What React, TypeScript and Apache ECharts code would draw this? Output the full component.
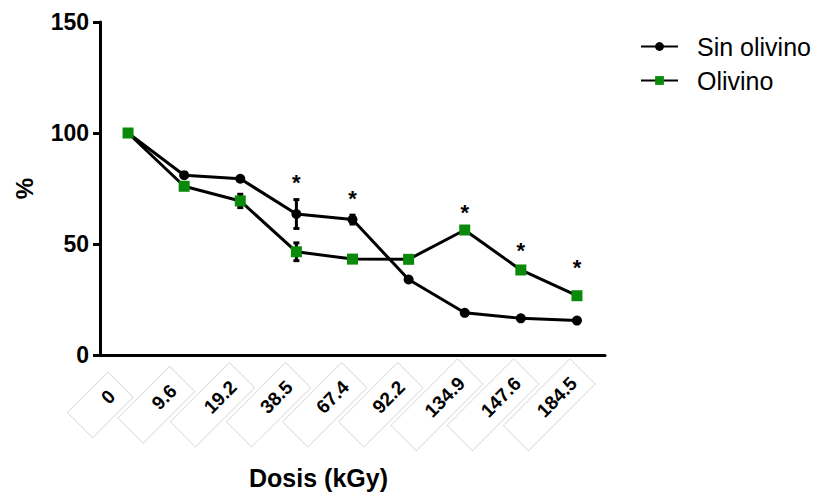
import React, { useEffect, useRef } from "react";
import * as echarts from "echarts";

const doses = ["0", "9.6", "19.2", "38.5", "67.4", "92.2", "134.9", "147.6", "184.5"];
const sinOlivino = [100, 81, 79.4, 63.5, 61, 34, 19, 16.5, 15.5];
const sinOlivinoErr = [0, 0.8, 0.8, 6.5, 2, 0, 0, 0, 0];
const olivino = [100, 76, 69.4, 46.5, 43.2, 43.1, 56.3, 38.3, 26.7];
const olivinoErr = [0, 0, 3, 4, 0, 0, 0, 0, 0];
const asteriskY: (number | null)[] = [null, null, null, 77.5, 70.5, null, 64.2, 47.2, 39.5];
const yTicks = [0, 50, 100, 150];

const FONT = "'Liberation Sans', Arial, sans-serif";
const GREEN = "#0a8a0a";

export default function App() {
  const ref = useRef<HTMLDivElement>(null);
  useEffect(() => {
    if (!ref.current) return;
    const chart = echarts.init(ref.current, null, { renderer: "svg" });
    const errData = (vals: number[], errs: number[]) =>
      vals.map((v, i) => [i, v - errs[i], v + errs[i]]).filter((d, i) => errs[i] > 0);
    const errRender = (params: any, api: any) => {
      const i = api.value(0);
      const lo = api.coord([i, api.value(1)]);
      const hi = api.coord([i, api.value(2)]);
      const cap = 3;
      const st = { stroke: "#000", lineWidth: 3 };
      return {
        type: "group",
        children: [
          { type: "line", shape: { x1: lo[0], y1: lo[1], x2: hi[0], y2: hi[1] }, style: st },
          { type: "line", shape: { x1: lo[0] - cap, y1: lo[1], x2: lo[0] + cap, y2: lo[1] }, style: st },
          { type: "line", shape: { x1: hi[0] - cap, y1: hi[1], x2: hi[0] + cap, y2: hi[1] }, style: st },
        ],
      };
    };
    // rotated tick labels: text centre offset from the tick foot
    const PAD = [8, 12, 8, 34];
    const ANG = Math.PI / 4;
    const labelRender = (params: any, api: any) => {
      const p = api.coord([api.value(0), 0]);
      const cx = p[0] - 20;
      const cy = p[1] + 42;
      // shift from box centre to text centre along baseline
      const s = (PAD[3] - PAD[1]) / 2;
      const x = cx - s * Math.cos(ANG);
      const y = cy + s * Math.sin(ANG);
      return {
        type: "text",
        x,
        y,
        rotation: ANG,
        style: {
          text: doses[params.dataIndex],
          fontSize: 19,
          fontWeight: "bold",
          fontFamily: FONT,
          fill: "#000",
          align: "center",
          verticalAlign: "middle",
          backgroundColor: "#fff",
          borderColor: "#d4d4d4",
          borderWidth: 0.7,
          padding: PAD,
        },
      };
    };
    chart.setOption({
      animation: false,
      textStyle: { fontFamily: FONT },
      grid: { left: 100, top: 22, right: 218, bottom: 138, containLabel: false, outerBoundsMode: "none" },
      legend: {
        orient: "vertical",
        left: 635,
        top: 29,
        itemWidth: 37,
        itemHeight: 11,
        itemGap: 9,
        textStyle: { fontSize: 25, color: "#000", fontFamily: FONT, padding: [0, 0, 0, 14] },
        data: ["Sin olivino", "Olivino"],
      },
      xAxis: {
        type: "category",
        data: doses,
        boundaryGap: true,
        name: "Dosis (kGy)",
        nameLocation: "middle",
        nameGap: 110,
        nameTextStyle: {
          fontSize: 25,
          fontWeight: "bold",
          color: "#000",
          fontFamily: FONT,
          padding: [0, 68, 0, 0],
        },
        axisLine: { lineStyle: { color: "#000", width: 3 } },
        axisTick: { alignWithLabel: true, length: 8, lineStyle: { color: "#000", width: 3 } },
        axisLabel: { show: false },
      },
      yAxis: {
        type: "value",
        min: 0,
        max: 150,
        interval: 50,
        name: "%",
        nameLocation: "middle",
        nameGap: 64,
        nameRotate: 90,
        nameTextStyle: { fontSize: 24, fontWeight: "bold", color: "#000", fontFamily: FONT },
        splitLine: { show: false },
        axisLine: { show: true, lineStyle: { color: "#000", width: 3 } },
        axisTick: { show: true, length: 7, lineStyle: { color: "#000", width: 3 } },
        axisLabel: {
          fontSize: 23,
          fontWeight: "bold",
          color: "#000",
          margin: 11,
          fontFamily: FONT,
          formatter: (v: number) => (yTicks.includes(v) ? String(v) : ""),
        },
      },
      series: [
        {
          name: "Sin olivino",
          type: "line",
          data: sinOlivino,
          symbol: "circle",
          symbolSize: 10,
          itemStyle: { color: "#000" },
          lineStyle: { color: "#000", width: 3 },
          z: 3,
        },
        {
          name: "Olivino",
          type: "line",
          data: olivino,
          symbol: "rect",
          symbolSize: 11,
          itemStyle: { color: GREEN },
          lineStyle: { color: "#000", width: 3 },
          z: 4,
        },
        {
          type: "custom",
          data: errData(sinOlivino, sinOlivinoErr),
          renderItem: errRender,
          z: 2,
        },
        {
          type: "custom",
          data: errData(olivino, olivinoErr),
          renderItem: errRender,
          z: 2,
        },
        {
          type: "custom",
          data: asteriskY.map((v, i) => (v == null ? null : [i, v])).filter((d) => d),
          renderItem: (params: any, api: any) => {
            const p = api.coord([api.value(0), api.value(1)]);
            return {
              type: "text",
              x: p[0],
              y: p[1],
              style: {
                text: "*",
                fontSize: 22,
                fontWeight: "bold",
                fontFamily: FONT,
                fill: "#000",
                align: "center",
                verticalAlign: "middle",
              },
            };
          },
          z: 5,
        },
        {
          type: "custom",
          data: doses.map((d, i) => [i, 0]),
          renderItem: labelRender,
          clip: false,
          silent: true,
          z: 1,
        },
      ],
    });
    return () => chart.dispose();
  }, []);
  return <div ref={ref} style={{ width: 823, height: 493, position: "absolute", left: 0, top: 0, background: "#fff" }} />;
}
